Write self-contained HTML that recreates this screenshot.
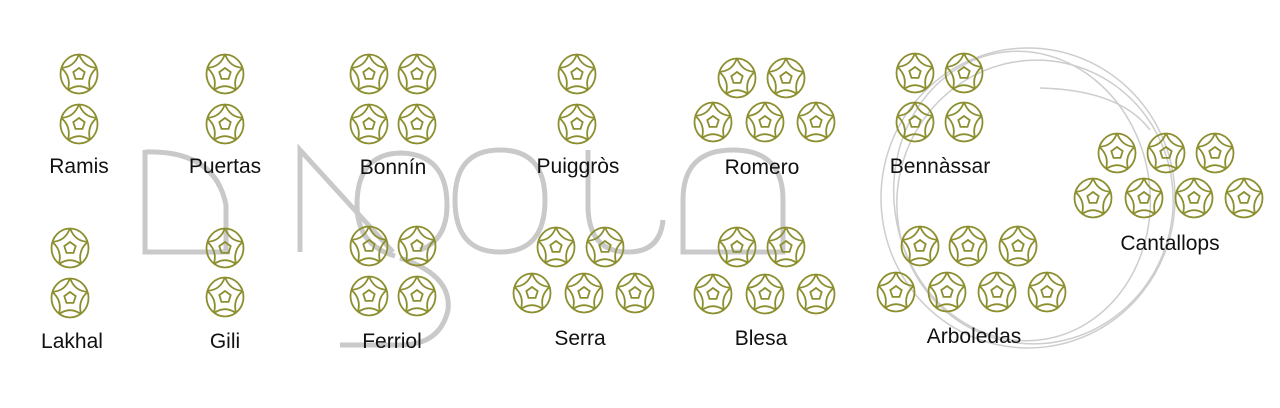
<!DOCTYPE html>
<html><head><meta charset="utf-8"><style>
html,body{margin:0;padding:0;background:#fff;width:1280px;height:408px;overflow:hidden}
svg{display:block}
text{font-family:"Liberation Sans",sans-serif;font-size:21px;fill:#111;text-anchor:middle}
</style></head><body>
<svg width="1280" height="408" viewBox="0 0 1280 408" xmlns="http://www.w3.org/2000/svg">
<g fill="none" stroke="#c9c9c9" stroke-width="5" stroke-linecap="butt">
  <path d="M145,150 V252 H230"/>
  <path d="M145,152 Q215,150 226,205 V252"/>
  <path d="M300,252 V150 L393,252"/>
  <path d="M395,256 Q357,245 357,205 Q357,153 402,153 Q447,155 447,205 Q447,240 420,250"/>
  <path d="M400,258 Q452,275 448,310 Q440,345 400,345 H340"/>
  <path d="M500,150 Q545,150 545,200 Q545,252 500,252 Q455,252 455,200 Q455,150 500,150 Z"/>
  <path d="M588,150 V205 Q588,252 628,252 Q660,252 663,220"/>
  <path d="M683,252 V200 Q683,150 733,150 Q783,150 783,200 V252 Z"/>
</g>
<g fill="none" stroke="#cdcdcd" stroke-width="1.5">
  <ellipse cx="1028" cy="198" rx="147" ry="150"/>
  <ellipse cx="1035" cy="202" rx="138" ry="142" transform="rotate(12 1035 202)"/>
  <ellipse cx="1022" cy="196" rx="128" ry="145" transform="rotate(-8 1022 196)"/>
  <path d="M1040,88 Q1120,90 1150,130"/>
</g>
<g id="balls"></g>
<text x="79" y="173">Ramis</text>
<text x="225" y="173">Puertas</text>
<text x="393" y="174">Bonnín</text>
<text x="578" y="173">Puiggròs</text>
<text x="762" y="174">Romero</text>
<text x="940" y="173">Bennàssar</text>
<text x="1170" y="250">Cantallops</text>
<text x="72" y="348">Lakhal</text>
<text x="225" y="348">Gili</text>
<text x="392" y="348">Ferriol</text>
<text x="580" y="345">Serra</text>
<text x="761" y="345">Blesa</text>
<text x="974" y="343">Arboledas</text>
</svg>
<script>
(function(){
var ns="http://www.w3.org/2000/svg";
function ball(cx,cy){
  var g=document.createElementNS(ns,"g");
  var s='<ellipse cx="'+cx+'" cy="'+cy+'" rx="18.5" ry="19.5"/>';
  var pent=[],d="";
  for(var k=0;k<5;k++){
    var a=(-90+72*k)*Math.PI/180;
    pent.push([cx+6*Math.cos(a),cy+6*Math.sin(a)]);
  }
  d="M"+pent.map(function(p){return p[0].toFixed(1)+","+p[1].toFixed(1)}).join(" L")+" Z";
  for(var k=0;k<5;k++){
    var a=(-90+72*k+36)*Math.PI/180;
    var a1=a-0.62,a2=a+0.62;
    var x1=cx+18.5*Math.cos(a1),y1=cy+19.5*Math.sin(a1);
    var x2=cx+18.5*Math.cos(a2),y2=cy+19.5*Math.sin(a2);
    var qx=cx+8*Math.cos(a),qy=cy+8.5*Math.sin(a);
    var rx=cx+13*Math.cos(a),ry=cy+13.5*Math.sin(a);
    d+=" M"+x1.toFixed(1)+","+y1.toFixed(1)+" Q"+qx.toFixed(1)+","+qy.toFixed(1)+" "+x2.toFixed(1)+","+y2.toFixed(1);
  }
  s+='<path d="'+d+'"/>';
  g.innerHTML=s;
  g.setAttribute("fill","none");g.setAttribute("stroke","#8c8f2f");g.setAttribute("stroke-width","1.8");
  document.getElementById("balls").appendChild(g);
}
var B=[[79,74],[79,124],[225,74],[225,124],[369,74],[417,74],[369,124],[417,124],[577,74],[577,124],
[737,78],[786,78],[713,122],[765,122],[816,122],
[915,73],[964,73],[915,122],[964,122],
[1117,153],[1166,153],[1215,153],[1093,198],[1144,198],[1194,198],[1244,198],
[70,248],[70,298],[225,248],[225,297],[369,246],[417,246],[369,296],[417,296],
[556,247],[605,247],[532,293],[584,293],[635,293],
[737,247],[786,247],[713,294],[765,294],[816,294],
[920,246],[968,246],[1018,246],[896,292],[947,292],[997,292],[1047,292]];
B.forEach(function(p){ball(p[0],p[1]);});
})();
</script>
</body></html>
